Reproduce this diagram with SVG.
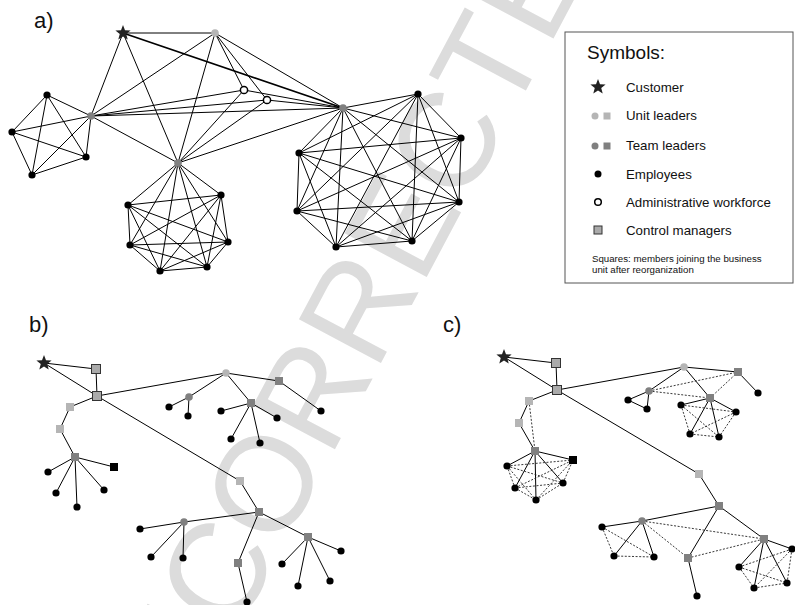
<svg xmlns="http://www.w3.org/2000/svg" xmlns:xlink="http://www.w3.org/1999/xlink" width="795" height="605" viewBox="0 0 795 605">
<style>
.wm{font-family:"Liberation Sans",Arial,sans-serif;font-size:135px;fill:#dcdcdc}
.lbl{font-family:"Liberation Sans",Arial,sans-serif;font-size:22px;fill:#111}
.lg{font-family:"Liberation Sans",Arial,sans-serif;font-size:13.3px;fill:#111}
.lgs{font-family:"Liberation Sans",Arial,sans-serif;font-size:9.7px;fill:#111}
.e line{stroke:#000;stroke-width:1;fill:none}
.dsh line{stroke:#222;stroke-width:0.9;stroke-dasharray:2 1.6;fill:none}
.emp{fill:#000}
.ul{fill:#b5b5b5}
.tl{fill:#808080}
.adm{fill:#fff;stroke:#000;stroke-width:1.5}
.cm{fill:#aaa;stroke:#333;stroke-width:1}
.st{fill:#222}
</style>
<defs>
<path id="star" d="M0,-8 L2,-2.75 L7.61,-2.47 L3.23,1.05 L4.7,6.47 L0,3.4 L-4.7,6.47 L-3.23,1.05 L-7.61,-2.47 L-2,-2.75 Z"/>
</defs>
<rect width="795" height="605" fill="#fff"/>
<text class="wm" x="-195" y="0" transform="translate(234.8,637.7) rotate(-62)">UNCORRECTED PROOF</text>

<text class="lbl" x="34" y="28">a)</text>
<text class="lbl" x="29" y="332">b)</text>
<text class="lbl" x="443" y="332">c)</text>

<g id="legend">
<rect x="565" y="32" width="228" height="251" fill="#fff" stroke="#555" stroke-width="1"/>
<text x="587" y="59" style="font-family:'Liberation Sans',Arial,sans-serif;font-size:19px;fill:#111">Symbols:</text>
<use href="#star" x="598" y="87" class="st"/>
<text class="lg" x="626" y="92">Customer</text>
<circle cx="595" cy="116" r="3.5" class="ul"/><rect x="603.5" y="112.5" width="7" height="7" class="ul"/>
<text class="lg" x="626" y="120">Unit leaders</text>
<circle cx="595" cy="146" r="3.5" class="tl"/><rect x="603.5" y="142.5" width="7" height="7" class="tl"/>
<text class="lg" x="626" y="150">Team leaders</text>
<circle cx="598" cy="174" r="3.5" class="emp"/>
<text class="lg" x="626" y="179">Employees</text>
<circle cx="598" cy="202" r="3.3" class="adm"/>
<text class="lg" x="626" y="207">Administrative workforce</text>
<rect x="594" y="226" width="8" height="8" class="cm"/>
<text class="lg" x="626" y="235">Control managers</text>
<text class="lgs" x="592" y="262">Squares: members joining the business</text>
<text class="lgs" x="592" y="273">unit after reorganization</text>
</g>

<g id="connectors">
<g class="e">
<!-- panel a top level -->
<line x1="123" y1="33" x2="215" y2="33"/>
<line x1="123" y1="33" x2="343" y2="108" style="stroke-width:1.8"/>
<line x1="123" y1="33" x2="91" y2="116"/>
<line x1="123" y1="33" x2="178" y2="163"/>
<line x1="215" y1="33" x2="91" y2="116"/>
<line x1="215" y1="33" x2="178" y2="163"/>
<line x1="215" y1="33" x2="244" y2="90"/>
<line x1="215" y1="33" x2="267" y2="100"/>
<line x1="215" y1="33" x2="343" y2="108"/>
<line x1="91" y1="116" x2="244" y2="90"/>
<line x1="91" y1="116" x2="267" y2="100"/>
<line x1="91" y1="116" x2="343" y2="108"/>
<line x1="91" y1="116" x2="178" y2="163"/>
<line x1="178" y1="163" x2="244" y2="90"/>
<line x1="178" y1="163" x2="267" y2="100"/>
<line x1="178" y1="163" x2="343" y2="108"/>
<line x1="244" y1="90" x2="343" y2="108"/>
<line x1="267" y1="100" x2="343" y2="108"/>
<!-- left cluster K5 -->
<line x1="91" y1="116" x2="47" y2="95"/>
<line x1="91" y1="116" x2="12" y2="132"/>
<line x1="91" y1="116" x2="86" y2="157"/>
<line x1="91" y1="116" x2="32" y2="175"/>
<line x1="47" y1="95" x2="12" y2="132"/>
<line x1="47" y1="95" x2="86" y2="157"/>
<line x1="47" y1="95" x2="32" y2="175"/>
<line x1="12" y1="132" x2="86" y2="157"/>
<line x1="12" y1="132" x2="32" y2="175"/>
<line x1="86" y1="157" x2="32" y2="175"/>
<!-- bottom cluster K7 -->
<line x1="178" y1="163" x2="128" y2="205"/>
<line x1="178" y1="163" x2="221" y2="195"/>
<line x1="178" y1="163" x2="228" y2="242"/>
<line x1="178" y1="163" x2="207" y2="267"/>
<line x1="178" y1="163" x2="160" y2="271"/>
<line x1="178" y1="163" x2="130" y2="245"/>
<line x1="128" y1="205" x2="221" y2="195"/>
<line x1="128" y1="205" x2="228" y2="242"/>
<line x1="128" y1="205" x2="207" y2="267"/>
<line x1="128" y1="205" x2="160" y2="271"/>
<line x1="128" y1="205" x2="130" y2="245"/>
<line x1="221" y1="195" x2="228" y2="242"/>
<line x1="221" y1="195" x2="207" y2="267"/>
<line x1="221" y1="195" x2="160" y2="271"/>
<line x1="221" y1="195" x2="130" y2="245"/>
<line x1="228" y1="242" x2="207" y2="267"/>
<line x1="228" y1="242" x2="160" y2="271"/>
<line x1="228" y1="242" x2="130" y2="245"/>
<line x1="207" y1="267" x2="160" y2="271"/>
<line x1="207" y1="267" x2="130" y2="245"/>
<line x1="160" y1="271" x2="130" y2="245"/>
<!-- right cluster K8 -->
<line x1="343" y1="108" x2="418" y2="94"/>
<line x1="343" y1="108" x2="461" y2="138"/>
<line x1="343" y1="108" x2="459" y2="202"/>
<line x1="343" y1="108" x2="412" y2="241"/>
<line x1="343" y1="108" x2="336" y2="247"/>
<line x1="343" y1="108" x2="297" y2="211"/>
<line x1="343" y1="108" x2="299" y2="153"/>
<line x1="418" y1="94" x2="461" y2="138"/>
<line x1="418" y1="94" x2="459" y2="202"/>
<line x1="418" y1="94" x2="412" y2="241"/>
<line x1="418" y1="94" x2="336" y2="247"/>
<line x1="418" y1="94" x2="297" y2="211"/>
<line x1="418" y1="94" x2="299" y2="153"/>
<line x1="461" y1="138" x2="459" y2="202"/>
<line x1="461" y1="138" x2="412" y2="241"/>
<line x1="461" y1="138" x2="336" y2="247"/>
<line x1="461" y1="138" x2="297" y2="211"/>
<line x1="461" y1="138" x2="299" y2="153"/>
<line x1="459" y1="202" x2="412" y2="241"/>
<line x1="459" y1="202" x2="336" y2="247"/>
<line x1="459" y1="202" x2="297" y2="211"/>
<line x1="459" y1="202" x2="299" y2="153"/>
<line x1="412" y1="241" x2="336" y2="247"/>
<line x1="412" y1="241" x2="297" y2="211"/>
<line x1="412" y1="241" x2="299" y2="153"/>
<line x1="336" y1="247" x2="297" y2="211"/>
<line x1="336" y1="247" x2="299" y2="153"/>
<line x1="297" y1="211" x2="299" y2="153"/>

<!-- panel b -->
<line x1="44" y1="363" x2="96" y2="369"/>
<line x1="44" y1="363" x2="97" y2="396"/>
<line x1="96" y1="369" x2="97" y2="396"/>
<line x1="97" y1="396" x2="70" y2="407"/>
<line x1="70" y1="407" x2="60" y2="429"/>
<line x1="60" y1="429" x2="75" y2="457"/>
<line x1="75" y1="457" x2="48" y2="472"/>
<line x1="75" y1="457" x2="56" y2="493"/>
<line x1="75" y1="457" x2="77" y2="507"/>
<line x1="75" y1="457" x2="104" y2="490"/>
<line x1="75" y1="457" x2="114" y2="467"/>
<line x1="97" y1="396" x2="226" y2="373"/>
<line x1="226" y1="373" x2="189" y2="397"/>
<line x1="189" y1="397" x2="169" y2="407"/>
<line x1="189" y1="397" x2="188" y2="416"/>
<line x1="226" y1="373" x2="251" y2="403"/>
<line x1="251" y1="403" x2="221" y2="411"/>
<line x1="251" y1="403" x2="277" y2="418"/>
<line x1="251" y1="403" x2="231" y2="439"/>
<line x1="251" y1="403" x2="260" y2="443"/>
<line x1="226" y1="373" x2="279" y2="381"/>
<line x1="279" y1="381" x2="321" y2="411"/>
<line x1="97" y1="396" x2="240" y2="481"/>
<line x1="240" y1="481" x2="259" y2="512"/>
<line x1="259" y1="512" x2="184" y2="522"/>
<line x1="184" y1="522" x2="140" y2="529"/>
<line x1="184" y1="522" x2="151" y2="557"/>
<line x1="184" y1="522" x2="183" y2="558"/>
<line x1="259" y1="512" x2="308" y2="537"/>
<line x1="308" y1="537" x2="341" y2="551"/>
<line x1="308" y1="537" x2="282" y2="564"/>
<line x1="308" y1="537" x2="298" y2="586"/>
<line x1="308" y1="537" x2="330" y2="581"/>
<line x1="259" y1="512" x2="238" y2="563"/>
<line x1="238" y1="563" x2="247" y2="602"/>

<!-- panel c solid -->
<line x1="504" y1="357" x2="556" y2="363"/>
<line x1="504" y1="357" x2="557" y2="390"/>
<line x1="556" y1="363" x2="557" y2="390"/>
<line x1="557" y1="390" x2="529" y2="401"/>
<line x1="529" y1="401" x2="519" y2="423"/>
<line x1="519" y1="423" x2="535" y2="451"/>
<line x1="535" y1="451" x2="507" y2="466"/>
<line x1="535" y1="451" x2="515" y2="488"/>
<line x1="535" y1="451" x2="536" y2="500"/>
<line x1="535" y1="451" x2="563" y2="483"/>
<line x1="535" y1="451" x2="573" y2="460"/>
<line x1="557" y1="390" x2="684" y2="367"/>
<line x1="684" y1="367" x2="649" y2="391"/>
<line x1="649" y1="391" x2="628" y2="400"/>
<line x1="649" y1="391" x2="647" y2="409"/>
<line x1="628" y1="400" x2="647" y2="409"/>
<line x1="684" y1="367" x2="710" y2="398"/>
<line x1="710" y1="398" x2="681" y2="405"/>
<line x1="710" y1="398" x2="736" y2="412"/>
<line x1="710" y1="398" x2="690" y2="434"/>
<line x1="710" y1="398" x2="719" y2="437"/>
<line x1="684" y1="367" x2="738" y2="372"/>
<line x1="738" y1="372" x2="758" y2="393"/>
<line x1="557" y1="390" x2="699" y2="474"/>
<line x1="699" y1="474" x2="719" y2="506"/>
<line x1="719" y1="506" x2="642" y2="521"/>
<line x1="642" y1="521" x2="602" y2="527"/>
<line x1="642" y1="521" x2="614" y2="556"/>
<line x1="642" y1="521" x2="654" y2="557"/>
<line x1="719" y1="506" x2="764" y2="539"/>
<line x1="764" y1="539" x2="792" y2="549"/>
<line x1="764" y1="539" x2="739" y2="567"/>
<line x1="764" y1="539" x2="754" y2="588"/>
<line x1="764" y1="539" x2="787" y2="583"/>
<line x1="719" y1="506" x2="688" y2="558"/>
<line x1="688" y1="558" x2="697" y2="596"/>
</g>
<g class="dsh">
<line x1="529" y1="401" x2="535" y2="451"/>
<line x1="507" y1="466" x2="515" y2="488"/>
<line x1="507" y1="466" x2="536" y2="500"/>
<line x1="507" y1="466" x2="563" y2="483"/>
<line x1="507" y1="466" x2="573" y2="460"/>
<line x1="515" y1="488" x2="536" y2="500"/>
<line x1="515" y1="488" x2="563" y2="483"/>
<line x1="515" y1="488" x2="573" y2="460"/>
<line x1="536" y1="500" x2="563" y2="483"/>
<line x1="536" y1="500" x2="573" y2="460"/>
<line x1="563" y1="483" x2="573" y2="460"/>
<line x1="649" y1="391" x2="738" y2="372"/>
<line x1="649" y1="391" x2="710" y2="398"/>
<line x1="710" y1="398" x2="738" y2="372"/>
<line x1="681" y1="405" x2="736" y2="412"/>
<line x1="681" y1="405" x2="690" y2="434"/>
<line x1="681" y1="405" x2="719" y2="437"/>
<line x1="736" y1="412" x2="690" y2="434"/>
<line x1="736" y1="412" x2="719" y2="437"/>
<line x1="690" y1="434" x2="719" y2="437"/>
<line x1="642" y1="521" x2="764" y2="539"/>
<line x1="642" y1="521" x2="688" y2="558"/>
<line x1="688" y1="558" x2="764" y2="539"/>
<line x1="602" y1="527" x2="614" y2="556"/>
<line x1="602" y1="527" x2="654" y2="557"/>
<line x1="614" y1="556" x2="654" y2="557"/>
<line x1="792" y1="549" x2="739" y2="567"/>
<line x1="792" y1="549" x2="754" y2="588"/>
<line x1="792" y1="549" x2="787" y2="583"/>
<line x1="739" y1="567" x2="754" y2="588"/>
<line x1="739" y1="567" x2="787" y2="583"/>
<line x1="754" y1="588" x2="787" y2="583"/>
</g>
</g>

<!-- panel a nodes -->
<g id="a-customer"><use href="#star" x="123" y="33" class="st"/></g>
<g id="a-unit"><circle cx="215" cy="33" r="3.8" class="ul"/></g>
<g id="a-team-left"><circle cx="91" cy="116" r="3.8" class="tl"/></g>
<g id="a-team-mid"><circle cx="178" cy="163" r="3.8" class="tl"/></g>
<g id="a-team-right"><circle cx="343" cy="108" r="3.8" class="tl"/></g>
<g id="a-admin1"><circle cx="244" cy="90" r="3.6" class="adm"/></g>
<g id="a-admin2"><circle cx="267" cy="100" r="3.6" class="adm"/></g>
<g id="a-l1"><circle cx="47" cy="95" r="3.6" class="emp"/></g>
<g id="a-l2"><circle cx="12" cy="132" r="3.6" class="emp"/></g>
<g id="a-l3"><circle cx="86" cy="157" r="3.6" class="emp"/></g>
<g id="a-l4"><circle cx="32" cy="175" r="3.6" class="emp"/></g>
<g id="a-b1"><circle cx="128" cy="205" r="3.6" class="emp"/></g>
<g id="a-b2"><circle cx="221" cy="195" r="3.6" class="emp"/></g>
<g id="a-b3"><circle cx="228" cy="242" r="3.6" class="emp"/></g>
<g id="a-b4"><circle cx="207" cy="267" r="3.6" class="emp"/></g>
<g id="a-b5"><circle cx="160" cy="271" r="3.6" class="emp"/></g>
<g id="a-b6"><circle cx="130" cy="245" r="3.6" class="emp"/></g>
<g id="a-r1"><circle cx="418" cy="94" r="3.6" class="emp"/></g>
<g id="a-r2"><circle cx="461" cy="138" r="3.6" class="emp"/></g>
<g id="a-r3"><circle cx="459" cy="202" r="3.6" class="emp"/></g>
<g id="a-r4"><circle cx="412" cy="241" r="3.6" class="emp"/></g>
<g id="a-r5"><circle cx="336" cy="247" r="3.6" class="emp"/></g>
<g id="a-r6"><circle cx="297" cy="211" r="3.6" class="emp"/></g>
<g id="a-r7"><circle cx="299" cy="153" r="3.6" class="emp"/></g>

<!-- panel b nodes -->
<g id="b-customer"><use href="#star" x="44" y="363" class="st"/></g>
<g id="b-cm1"><rect x="91.5" y="364.5" width="9" height="9" class="cm"/></g>
<g id="b-cm2"><rect x="92.5" y="391.5" width="9" height="9" class="cm"/></g>
<g id="b-u1"><rect x="66" y="403" width="8" height="8" class="ul"/></g>
<g id="b-u2"><rect x="56" y="425" width="8" height="8" class="ul"/></g>
<g id="b-t1"><rect x="71" y="453" width="8" height="8" class="tl"/></g>
<g id="b-e1"><circle cx="48" cy="472" r="3.6" class="emp"/></g>
<g id="b-e2"><circle cx="56" cy="493" r="3.6" class="emp"/></g>
<g id="b-e3"><circle cx="77" cy="507" r="3.6" class="emp"/></g>
<g id="b-e4"><circle cx="104" cy="490" r="3.6" class="emp"/></g>
<g id="b-e5"><rect x="110" y="463" width="8" height="8" class="emp"/></g>
<g id="b-uc"><circle cx="226" cy="373" r="3.8" class="ul"/></g>
<g id="b-tc1"><circle cx="189" cy="397" r="3.8" class="tl"/></g>
<g id="b-e6"><circle cx="169" cy="407" r="3.6" class="emp"/></g>
<g id="b-e7"><circle cx="188" cy="416" r="3.6" class="emp"/></g>
<g id="b-ts2"><rect x="247" y="399" width="8" height="8" class="tl"/></g>
<g id="b-e8"><circle cx="221" cy="411" r="3.6" class="emp"/></g>
<g id="b-e9"><circle cx="277" cy="418" r="3.6" class="emp"/></g>
<g id="b-e10"><circle cx="231" cy="439" r="3.6" class="emp"/></g>
<g id="b-e11"><circle cx="260" cy="443" r="3.6" class="emp"/></g>
<g id="b-ts3"><rect x="275" y="377" width="8" height="8" class="tl"/></g>
<g id="b-e12"><circle cx="321" cy="411" r="3.6" class="emp"/></g>
<g id="b-lsq"><rect x="236" y="477" width="8" height="8" class="ul"/></g>
<g id="b-dsq"><rect x="255" y="508" width="8" height="8" class="tl"/></g>
<g id="b-tc4"><circle cx="184" cy="522" r="3.8" class="tl"/></g>
<g id="b-e13"><circle cx="140" cy="529" r="3.6" class="emp"/></g>
<g id="b-e14"><circle cx="151" cy="557" r="3.6" class="emp"/></g>
<g id="b-e15"><circle cx="183" cy="558" r="3.6" class="emp"/></g>
<g id="b-ts5"><rect x="304" y="533" width="8" height="8" class="tl"/></g>
<g id="b-e16"><circle cx="341" cy="551" r="3.6" class="emp"/></g>
<g id="b-e17"><circle cx="282" cy="564" r="3.6" class="emp"/></g>
<g id="b-e18"><circle cx="298" cy="586" r="3.6" class="emp"/></g>
<g id="b-e19"><circle cx="330" cy="581" r="3.6" class="emp"/></g>
<g id="b-ts6"><rect x="234" y="559" width="8" height="8" class="tl"/></g>
<g id="b-e20"><circle cx="247" cy="602" r="3.6" class="emp"/></g>

<!-- panel c nodes -->
<g id="c-customer"><use href="#star" x="504" y="357" class="st"/></g>
<g id="c-cm1"><rect x="551.5" y="358.5" width="9" height="9" class="cm"/></g>
<g id="c-cm2"><rect x="552.5" y="385.5" width="9" height="9" class="cm"/></g>
<g id="c-u1"><rect x="525" y="397" width="8" height="8" class="ul"/></g>
<g id="c-u2"><rect x="515" y="419" width="8" height="8" class="ul"/></g>
<g id="c-t1"><rect x="531" y="447" width="8" height="8" class="tl"/></g>
<g id="c-e1"><circle cx="507" cy="466" r="3.6" class="emp"/></g>
<g id="c-e2"><circle cx="515" cy="488" r="3.6" class="emp"/></g>
<g id="c-e3"><circle cx="536" cy="500" r="3.6" class="emp"/></g>
<g id="c-e4"><circle cx="563" cy="483" r="3.6" class="emp"/></g>
<g id="c-e5"><rect x="569" y="456" width="8" height="8" class="emp"/></g>
<g id="c-uc"><circle cx="684" cy="367" r="3.8" class="ul"/></g>
<g id="c-tc1"><circle cx="649" cy="391" r="3.8" class="tl"/></g>
<g id="c-e6"><circle cx="628" cy="400" r="3.6" class="emp"/></g>
<g id="c-e7"><circle cx="647" cy="409" r="3.6" class="emp"/></g>
<g id="c-ts2"><rect x="706" y="394" width="8" height="8" class="tl"/></g>
<g id="c-e8"><circle cx="681" cy="405" r="3.6" class="emp"/></g>
<g id="c-e9"><circle cx="736" cy="412" r="3.6" class="emp"/></g>
<g id="c-e10"><circle cx="690" cy="434" r="3.6" class="emp"/></g>
<g id="c-e11"><circle cx="719" cy="437" r="3.6" class="emp"/></g>
<g id="c-ts3"><rect x="734" y="368" width="8" height="8" class="tl"/></g>
<g id="c-e12"><circle cx="758" cy="393" r="3.6" class="emp"/></g>
<g id="c-lsq"><rect x="695" y="470" width="8" height="8" class="ul"/></g>
<g id="c-dsq"><rect x="715" y="502" width="8" height="8" class="tl"/></g>
<g id="c-tc4"><circle cx="642" cy="521" r="3.8" class="tl"/></g>
<g id="c-e13"><circle cx="602" cy="527" r="3.6" class="emp"/></g>
<g id="c-e14"><circle cx="614" cy="556" r="3.6" class="emp"/></g>
<g id="c-e15"><circle cx="654" cy="557" r="3.6" class="emp"/></g>
<g id="c-ts5"><rect x="760" y="535" width="8" height="8" class="tl"/></g>
<g id="c-e16"><circle cx="792" cy="549" r="3.6" class="emp"/></g>
<g id="c-e17"><circle cx="739" cy="567" r="3.6" class="emp"/></g>
<g id="c-e18"><circle cx="754" cy="588" r="3.6" class="emp"/></g>
<g id="c-e19"><circle cx="787" cy="583" r="3.6" class="emp"/></g>
<g id="c-ts6"><rect x="684" y="554" width="8" height="8" class="tl"/></g>
<g id="c-e20"><circle cx="697" cy="596" r="3.6" class="emp"/></g>
</svg>
